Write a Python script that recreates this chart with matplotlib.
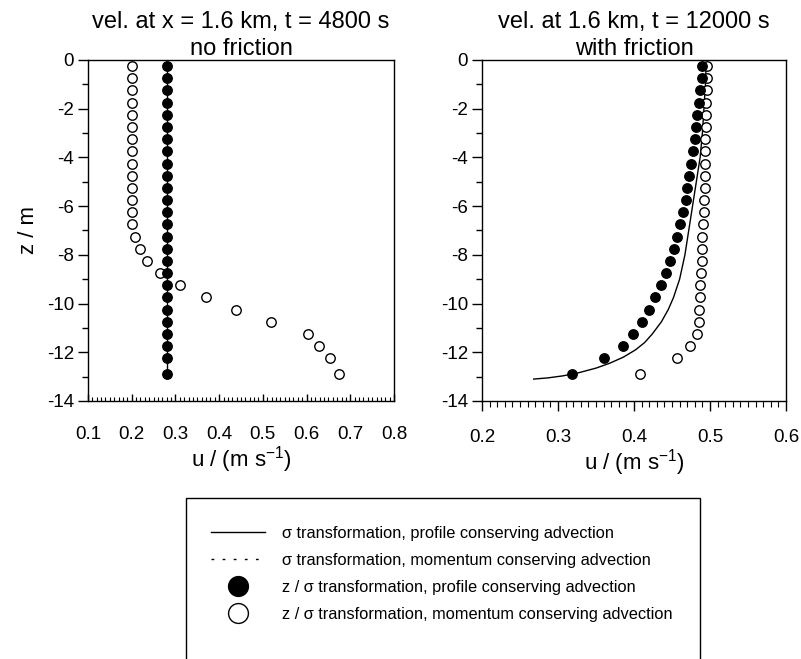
import matplotlib
matplotlib.use("Agg")
import matplotlib.pyplot as plt
from matplotlib.lines import Line2D
from matplotlib.patches import Rectangle
from matplotlib.ticker import MultipleLocator

plt.rcParams['font.family'] = ['Liberation Sans', 'DejaVu Sans']
plt.rcParams['mathtext.fontset'] = 'custom'
plt.rcParams['mathtext.rm'] = 'Liberation Sans'

# ---------------- data ----------------
z_levels = [-0.25, -0.75, -1.25, -1.75, -2.25, -2.75, -3.25, -3.75, -4.25,
            -4.75, -5.25, -5.75, -6.25, -6.75, -7.25, -7.75, -8.25, -8.75,
            -9.25, -9.75, -10.25, -10.75, -11.25, -11.75, -12.25, -12.9]

# left panel: no friction, t = 4800 s
left_filled_u = [0.28] * 26
left_open_u = [0.201, 0.201, 0.201, 0.201, 0.201, 0.201, 0.201, 0.201, 0.201,
               0.201, 0.201, 0.201, 0.201, 0.201, 0.207, 0.218, 0.236, 0.264,
               0.310, 0.370, 0.439, 0.519, 0.604, 0.629, 0.653, 0.674]
left_line_u = [0.28, 0.28]
left_line_z = [-0.25, -12.9]

# right panel: with friction, t = 12000 s
right_filled_u = [0.490, 0.490, 0.487, 0.486, 0.483, 0.481, 0.480, 0.478, 0.475,
                  0.473, 0.470, 0.468, 0.464, 0.461, 0.457, 0.452, 0.447, 0.442,
                  0.436, 0.428, 0.420, 0.411, 0.399, 0.385, 0.361, 0.318]
right_open_u = [0.496, 0.496, 0.496, 0.495, 0.495, 0.495, 0.494, 0.494, 0.494,
                0.493, 0.493, 0.492, 0.492, 0.491, 0.490, 0.489, 0.489, 0.488,
                0.487, 0.487, 0.486, 0.485, 0.483, 0.474, 0.456, 0.408]
right_line_z = [-0.1, -1.0, -2.0, -3.0, -4.0, -5.0, -6.0, -7.0, -8.0, -9.0,
                -9.75, -10.25, -10.75, -11.25, -11.6, -11.9, -12.2, -12.45,
                -12.65, -12.85, -12.97, -13.05, -13.1]
right_line_u = [0.495, 0.494, 0.492, 0.490, 0.487, 0.482, 0.477, 0.472, 0.467,
                0.460, 0.452, 0.445, 0.436, 0.424, 0.414, 0.402, 0.386, 0.368,
                0.350, 0.326, 0.306, 0.287, 0.268]

legend_labels = ["\u03c3 transformation, profile conserving advection",
                 "\u03c3 transformation, momentum conserving advection",
                 "z / \u03c3 transformation, profile conserving advection",
                 "z / \u03c3 transformation, momentum conserving advection"]

titles = ["vel. at x = 1.6 km, t = 4800 s\nno friction",
          "vel. at 1.6 km, t = 12000 s\nwith friction"]

# ---------------- figure ----------------
W, H = 801, 659
fig = plt.figure(figsize=(W / 100, H / 100), dpi=100)

def px_axes(x0, y0, x1, y1):
    return fig.add_axes([x0 / W, 1 - y1 / H, (x1 - x0) / W, (y1 - y0) / H])

axL = px_axes(88, 60, 394, 401)
axR = px_axes(482, 60, 786, 401)

ms = 6.8
for ax, fu, ou, lu, lz in [(axL, left_filled_u, left_open_u, left_line_u, left_line_z),
                           (axR, right_filled_u, right_open_u, right_line_u, right_line_z)]:
    ax.plot(lu, lz, color='black', lw=1.0, zorder=2)
    ax.plot(ou, z_levels, linestyle='none', marker='o', ms=ms, mfc='white',
            mec='black', mew=1.0, zorder=3)
    ax.plot(fu, z_levels, linestyle='none', marker='o', ms=ms, mfc='black',
            mec='black', zorder=4)
    ax.set_ylim(-14, 0)
    ax.yaxis.set_major_locator(MultipleLocator(2))
    ax.yaxis.set_minor_locator(MultipleLocator(1))
    ax.xaxis.set_minor_locator(MultipleLocator(0.01))
    ax.xaxis.set_major_locator(MultipleLocator(0.1))
    ax.tick_params(axis='y', which='major', direction='out', length=7, width=1,
                   labelsize=13.5, pad=3)
    ax.tick_params(axis='y', which='minor', direction='out', length=4, width=1)
    for s in ax.spines.values():
        s.set_linewidth(1.0)
    ax.set_xlabel("u / (m s$^{\\mathregular{-1}}$)", fontsize=16, labelpad=1)

axL.set_xlim(0.1, 0.8)
axR.set_xlim(0.2, 0.6)
axL.set_xticks([0.1, 0.2, 0.3, 0.4, 0.5, 0.6, 0.7, 0.8])
axL.set_xticklabels(["0.1", "0.2", "0.3", "0.4", "0.5", "0.6", "0.7", "0.8"])
axR.set_xticks([0.2, 0.3, 0.4, 0.5, 0.6])
axR.set_xticklabels(["0.2", "0.3", "0.4", "0.5", "0.6"])
axL.tick_params(axis='x', which='major', direction='in', length=5, width=1,
                labelsize=13.5, pad=18)
axL.tick_params(axis='x', which='minor', direction='in', length=3, width=0.8)
axR.tick_params(axis='x', which='major', direction='out', length=7, width=1,
                labelsize=13.5, pad=13)
axR.tick_params(axis='x', which='minor', direction='out', length=4, width=0.8)

for ax in (axL, axR):
    ax.set_yticks([0, -2, -4, -6, -8, -10, -12, -14])
    ax.set_yticklabels(["0", "-2", "-4", "-6", "-8", "-10", "-12", "-14"])

axL.set_ylabel("z / m", fontsize=16, labelpad=6)

axL.set_title(titles[0], fontsize=17, linespacing=1.28, pad=3)
axR.set_title(titles[1], fontsize=17, linespacing=1.28, pad=3)

# ---------------- legend ----------------
handles = [Line2D([], [], color='black', lw=1.0),
           Line2D([], [], color='black', lw=1.0, linestyle=(0, (2, 6))),
           Line2D([], [], linestyle='none', marker='o', ms=ms, mfc='black', mec='black'),
           Line2D([], [], linestyle='none', marker='o', ms=ms, mfc='white',
                  mec='black', mew=1.0)]
fig.legend(handles, legend_labels, loc='upper left',
           bbox_to_anchor=(211 / W, 1 - 526 / H), frameon=False, fontsize=11.8,
           handlelength=3.3, handletextpad=1.05, labelspacing=0.73,
           borderpad=0, borderaxespad=0, markerscale=2.1)

frame = Rectangle((186 / W, -0.05), (700 - 186) / W, (1 - 498 / H) + 0.05,
                  transform=fig.transFigure, fill=False, lw=1.0, ec='black')
fig.patches.append(frame)

fig.savefig("out.png", dpi=100)
